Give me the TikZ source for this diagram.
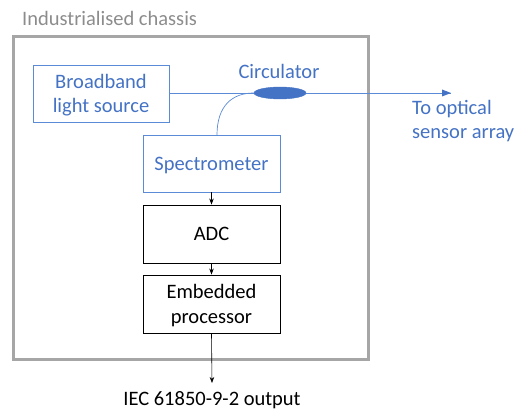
\documentclass[tikz,border=0pt]{standalone}
\usepackage{fontspec}
\setmainfont{Carlito}
\usetikzlibrary{arrows.meta,shapes.geometric,calc}
\definecolor{mblue}{HTML}{4472C4}
\definecolor{bbox}{HTML}{5B8BD6}
\definecolor{cgray}{HTML}{A6A6A6}
\definecolor{tgray}{HTML}{8C8C8C}
\begin{document}
\begin{tikzpicture}[x=1pt,y=-1pt,
  txt/.style={font=\fontsize{20.5}{24.5}\selectfont, align=center, inner sep=0pt},
  bluebox/.style={draw=bbox, line width=0.9pt, text=mblue, txt, text depth=0pt},
  blackbox/.style={draw=black, line width=0.9pt, txt, text depth=0pt},
  arr/.style={-{Stealth[length=6pt,width=4.5pt]}, line width=0.6pt}]
\useasboundingbox (0,0) rectangle (515,411);
\node[draw=cgray, line width=2.6pt, minimum width=355pt, minimum height=323pt, anchor=north west, inner sep=0pt] (chassis) at (12,35) {};
\node[txt, text=tgray, anchor=west] (title) at (22,18) {Industrialised chassis};
\node[bluebox, minimum width=136pt, minimum height=57pt] (bb) at (101,93.5) {Broadband\\light source};
\node[bluebox, minimum width=137pt, minimum height=57pt] (spec) at (211.5,163.5) {Spectrometer};
\node[blackbox, minimum width=137pt, minimum height=58pt] (adc) at (211.5,234) {ADC};
\node[blackbox, minimum width=137pt, minimum height=58pt] (emb) at (211.5,304) {Embedded\\processor};
\node[ellipse, fill=mblue, draw=mblue, minimum width=52pt, minimum height=12pt, inner sep=0pt] (circ) at (280,93) {};
\node[txt, text=mblue] (circlabel) at (279,71) {Circulator};
\node[txt, text=mblue, align=left, anchor=north west] (tolabel) at (412,100) {To optical\\sensor array};
\coordinate (tip) at (451,93);
\coordinate (out) at (212,383);
\coordinate (sin) at (217,135);
\node[txt, anchor=north] (outlabel) at (212,391) {IEC 61850-9-2 output};
\draw[draw=bbox, line width=0.7pt] (bb.east |- circ.west) -- (circ.west);
\draw[draw=bbox, line width=0.7pt] (circ.east) -- (tip);
\fill[mblue] (tip) -- ++(-9,-3.5) -- ++(0,7) -- cycle;
\draw[draw=bbox, line width=0.7pt] (circ.west) .. controls (232,93) and (217,106) .. (sin);
\draw[arr] (spec.south) -- (adc.north);
\draw[arr] (adc.south) -- (emb.north);
\draw[arr] (emb.south) -- (out);
\end{tikzpicture}
\end{document}
